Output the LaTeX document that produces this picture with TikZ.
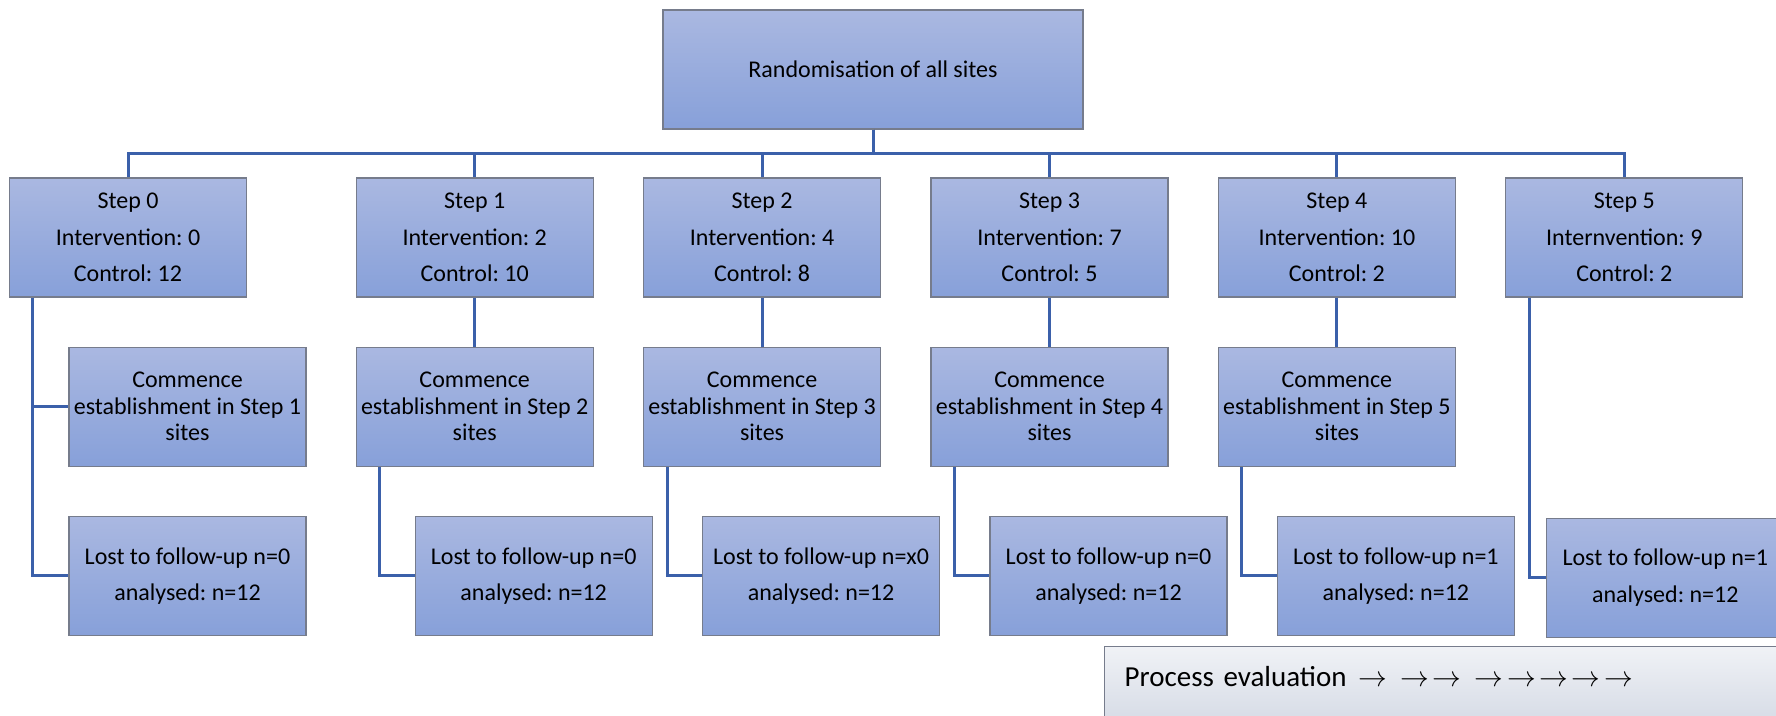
\documentclass[tikz,border=0pt]{standalone}
\usepackage{fontspec}
\setmainfont{Carlito}
\usetikzlibrary{positioning}
\definecolor{boxtop}{RGB}{170,184,225}
\definecolor{boxbot}{RGB}{135,160,217}
\definecolor{boxline}{RGB}{118,124,140}
\definecolor{linkblue}{RGB}{59,96,170}
\definecolor{proctop}{RGB}{240,242,246}
\definecolor{procbot}{RGB}{208,214,226}
\newcommand{\arr}{\kern0.9pt$\rightarrow$\kern0.9pt}
\frenchspacing

\begin{document}
\begin{tikzpicture}
    \tikzstyle{every node}=[font=\fontsize{12}{18.25}\selectfont, align=center]
    \tikzset{
        n/.style={draw=boxline, line width=0.6pt, top color=boxtop, bottom color=boxbot, minimum height=59.5pt, minimum width=118.5pt, inner sep=2pt},
        n2/.style={n, minimum width=210pt},
        est/.style={n, font=\fontsize{12}{13.25}\selectfont},
        link/.style={draw=linkblue, line width=1.5pt}
        }
    \clip (0,0) rectangle (888pt,-358pt);

    %randomisation
    \node (rand) [n2] at (436.5pt,-34.75pt) {Randomisation of all sites};

    %steps
    \node (step0) [n] at (64pt,-118.75pt) {Step 0\\Intervention: 0\\Control: 12};
    \node (step1) [n, right=54.25pt of step0] {Step 1\\Intervention: 2\\Control: 10};
    \node (step2) [n, right=24.6pt of step1] {Step 2\\Intervention: 4\\Control: 8};
    \node (step3) [n, right=24.6pt of step2] {Step 3\\Intervention: 7\\Control: 5};
    \node (step4) [n, right=24.6pt of step3] {Step 4\\Intervention: 10\\Control: 2};
    \node (step5) [n, right=24.6pt of step4] {Step 5\\Internvention: 9\\Control: 2};

    %establishment
    \node (est1) [est, below=24.5pt of step0, xshift=29.75pt] {Commence\\establishment in Step 1\\sites};
    \node (est2) [est, below=24.5pt of step1] {Commence\\establishment in Step 2\\sites};
    \node (est3) [est, below=24.5pt of step2] {Commence\\establishment in Step 3\\sites};
    \node (est4) [est, below=24.5pt of step3] {Commence\\establishment in Step 4\\sites};
    \node (est5) [est, below=24.5pt of step4] {Commence\\establishment in Step 5\\sites};

    %follow-up
    \node (lost0) [n, below=24.5pt of est1] {Lost to follow-up n=0\\analysed: n=12};
    \node (lost1) [n, below=24.5pt of est2, xshift=29.5pt] {Lost to follow-up n=0\\analysed: n=12};
    \node (lost2) [n, below=24.5pt of est3, xshift=29.5pt] {Lost to follow-up n=x0\\analysed: n=12};
    \node (lost3) [n, below=24.5pt of est4, xshift=29.5pt] {Lost to follow-up n=0\\analysed: n=12};
    \node (lost4) [n, below=24.5pt of est5, xshift=29.5pt] {Lost to follow-up n=1\\analysed: n=12};
    \node (lost5) [n, below=110pt of step5, xshift=20.5pt] {Lost to follow-up n=1\\analysed: n=12};

    %process evaluation
    \node (proc) [draw=boxline, line width=0.6pt, top color=proctop, bottom color=procbot, anchor=north west, text width=380pt, inner xsep=10.25pt, inner ysep=7pt, text height=13pt, text depth=20pt, align=left, font=\fontsize{14.5}{18}\selectfont] at (551.75pt,-322.85pt) {Process evaluation \arr{} \arr\arr{} \arr\arr\arr\arr\arr};

    \draw[link] (rand.south) -- ++(0,-12pt) -| (step0.north);
    \draw[link] (rand.south) -- ++(0,-12pt) -| (step1.north);
    \draw[link] (rand.south) -- ++(0,-12pt) -| (step2.north);
    \draw[link] (rand.south) -- ++(0,-12pt) -| (step3.north);
    \draw[link] (rand.south) -- ++(0,-12pt) -| (step4.north);
    \draw[link] (rand.south) -- ++(0,-12pt) -| (step5.north);

    \draw[link] ([xshift=12pt]step0.south west) |- (est1.west);
    \draw[link] ([xshift=12pt]step0.south west) |- (lost0.west);
    \draw[link] (step1.south) -- (est2.north);
    \draw[link] (step2.south) -- (est3.north);
    \draw[link] (step3.south) -- (est4.north);
    \draw[link] (step4.south) -- (est5.north);

    \draw[link] ([xshift=12pt]est2.south west) |- (lost1.west);
    \draw[link] ([xshift=12pt]est3.south west) |- (lost2.west);
    \draw[link] ([xshift=12pt]est4.south west) |- (lost3.west);
    \draw[link] ([xshift=12pt]est5.south west) |- (lost4.west);
    \draw[link] ([xshift=12pt]step5.south west) |- (lost5.west);
\end{tikzpicture}
\end{document}
